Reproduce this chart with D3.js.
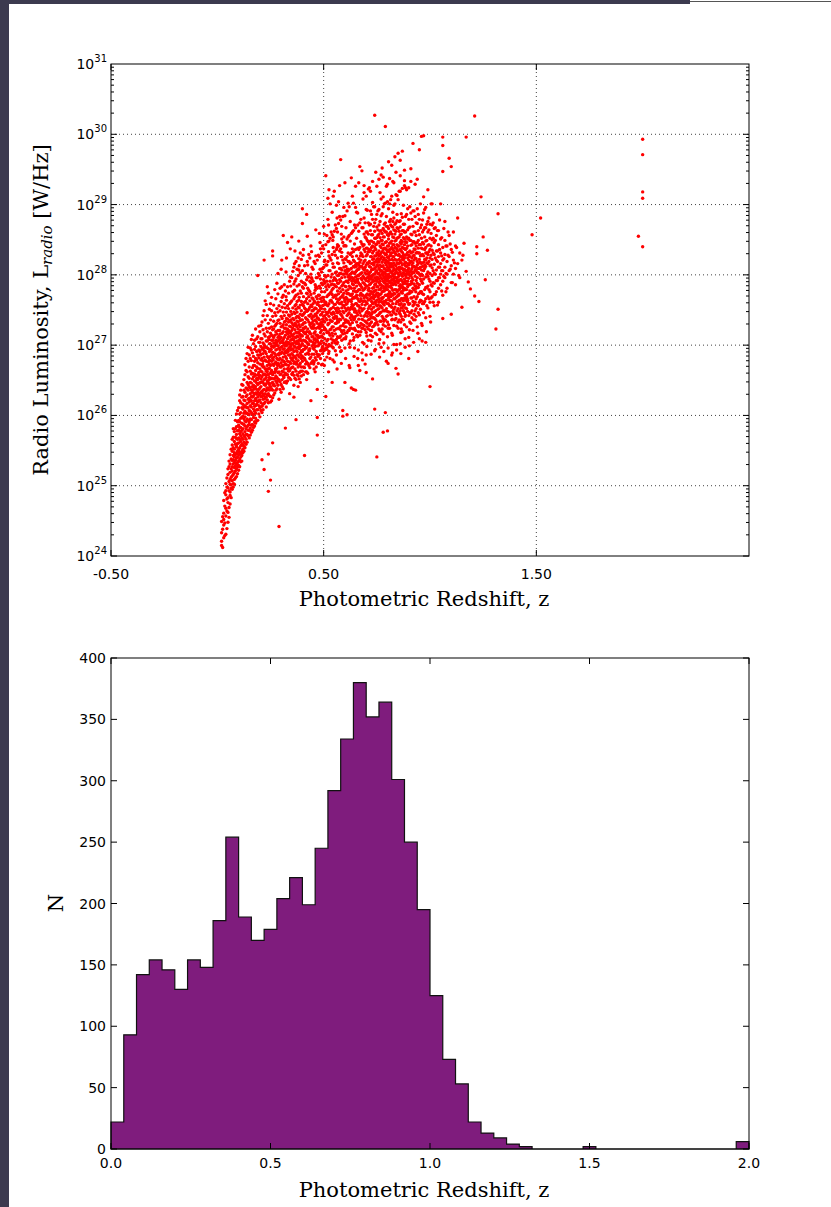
<!DOCTYPE html>
<html><head><meta charset="utf-8">
<script src="https://cdn.jsdelivr.net/npm/d3@7"></script>
<style>body{margin:0;background:#fff}svg{display:block}</style>
</head><body><svg id="c" width="831" height="1207"></svg>
<script>
// ---------- DATA ----------
// Scatter: [redshift z, list of log10 L_radio (W/Hz)] per narrow z column
const scatterColumnsA = [
[0.02,[24.15,24.33,24.21,24.49]],
[0.03,[24.26,24.61,24.44,24.79,24.52]],
[0.04,[24.31,24.87,24.68,24.57,25.03,24.93]],
[0.05,[24.48,25.16,24.76,24.97,24.83,25.24,24.62]],
[0.06,[24.74,25.09,25.31,24.91,25.19,25.44,25.02,24.86]],
[0.07,[25.27,24.95,25.58,25.14,25.36,25.07,25.49,25.21,25.66]],
[0.08,[25.02,25.41,25.18,25.63,25.33,25.77,25.09,25.52,25.26,25.47]],
[0.09,[25.58,25.13,25.39,25.84,25.24,25.67,25.46,26.02,25.31,25.73,25.55]],
[0.10,[25.22,25.61,25.44,25.93,25.35,25.79,25.52,26.11,25.68,25.29,25.86,25.49]],
[0.11,[25.71,25.34,25.96,25.57,26.18,25.46,25.83,25.63,26.36,25.41,25.77,26.04]],
[0.12,[25.47,26.09,25.66,25.88,26.27,25.58,25.99,26.43,25.74,25.52,26.16,25.81]],
[0.13,[25.92,25.54,26.21,25.77,26.58,25.69,26.06,26.33,25.85,26.72,25.61,26.14,25.98]],
[0.14,[26.03,25.62,26.29,25.84,26.47,25.95,26.88,26.17,25.73,26.62,26.11,27.46,26.38]],
[0.15,[25.68,26.24,25.91,26.53,26.07,25.79,26.41,26.86,26.01,26.19,25.87,26.69]],
[0.16,[26.27,25.76,26.12,26.59,25.94,26.36,27.08,26.04,26.78,25.86,26.46,26.21,26.93]],
[0.17,[25.83,26.43,26.09,26.71,26.28,25.97,26.55,27.02,26.17,26.37,26.84,26.01]],
[0.18,[26.32,25.89,26.64,26.14,26.49,27.23,26.03,26.81,26.24,26.57,25.96,26.98,26.41]],
[0.19,[26.19,26.67,25.93,26.44,26.86,26.08,27.12,26.33,26.58,27.99,26.26,26.75,26.51]],
[0.20,[26.39,25.98,26.73,26.22,26.57,27.19,26.11,26.91,26.46,26.31,26.66,27.04]],
[0.21,[26.48,25.37,26.81,26.13,26.62,26.34,27.33,26.04,26.94,26.55,26.27,26.71,27.09]],
[0.22,[26.59,25.23,26.28,27.01,26.44,26.83,26.17,27.49,26.69,26.37,28.21,26.92,27.16,26.51]],
[0.23,[26.26,26.77,26.45,27.06,26.63,26.12,27.58,26.88,26.54,27.24,26.35,26.97]],
[0.24,[26.66,24.92,26.31,27.11,25.45,26.82,26.47,27.31,26.18,26.95,26.58,27.74,26.39,26.76]],
[0.25,[26.52,25.08,26.93,26.27,27.17,26.71,26.41,27.59,26.84,26.6,27.02,26.19,27.36]],
[0.26,[26.73,25.61,26.36,27.07,26.58,26.9,28.27,26.47,27.22,26.81,27.41,26.25,28.34,26.99]],
[0.27,[26.88,26.42,27.14,26.61,27.46,26.32,26.99,26.74,27.79,27.27,26.53,27.03]],
[0.28,[26.67,27.05,26.38,26.94,27.52,26.81,27.16,26.54,27.88,26.73,27.31,26.46,27.01]],
[0.29,[24.42,26.86,26.51,27.21,26.72,27.07,26.23,27.36,26.96,26.62,27.56,26.79,27.13]],
[0.30,[26.97,26.44,27.26,26.75,28.08,27.11,26.59,27.41,26.88,27.62,26.33,27.04,26.69]],
[0.31,[26.83,27.19,26.56,28.56,27.03,26.71,27.47,26.38,26.94,27.71,27.29,26.62,27.08]],
[0.32,[27.02,25.82,26.73,27.34,26.48,26.91,27.53,27.14,26.6,27.77,26.84,27.24,26.99]],
[0.33,[26.77,27.23,26.49,28.46,27.09,26.93,27.56,26.66,27.37,27.83,27.01,26.58,27.17]],
[0.34,[27.12,26.64,27.41,26.31,27.02,26.86,27.59,27.27,26.53,27.91,26.97,27.34,26.76,27.19]],
[0.35,[26.95,27.32,26.59,28.54,27.08,27.63,26.79,27.21,27.96,26.68,27.44,27.14,26.88,27.02]],
[0.36,[27.07,26.43,27.28,26.91,27.66,26.26,27.16,26.74,27.47,28.11,26.99,27.87,26.57,27.36,26.83]],
[0.37,[27.18,25.94,26.81,27.51,27.03,26.63,27.71,27.29,28.19,26.92,27.39,26.51,27.94,27.11,26.73,27.58]],
[0.38,[26.97,27.41,26.69,27.23,28.24,26.86,27.54,27.12,26.41,27.73,27.04,27.99,26.78,27.33,26.56,27.18]],
[0.39,[27.26,26.62,27.09,27.77,26.89,27.44,28.31,27.15,26.47,27.57,26.98,28.03,27.35,26.74,27.21]],
[0.40,[27.13,28.94,26.77,27.42,26.63,27.58,28.73,27.02,27.83,26.91,27.29,28.06,27.21,26.84,27.36]],
[0.41,[26.99,25.43,27.46,26.68,27.17,27.88,26.81,27.32,28.13,27.61,26.94,27.53,27.24]],
[0.42,[27.37,26.51,27.04,28.86,26.76,27.66,27.19,27.93,26.97,27.48,27.74,27.11,26.62]],
[0.43,[26.87,27.51,27.09,28.29,26.71,27.69,27.33,27.97,27.01,26.93,27.42,27.78]],
[0.44,[27.26,26.21,27.57,26.83,27.31,28.41,27.06,27.72,26.74,28.01,27.44,27.16,27.89]],
[0.45,[27.41,26.78,27.66,27.12,28.08,26.96,27.49,27.27,27.91,27.04,27.59,27.34]],
[0.46,[27.09,26.62,27.53,27.78,26.98,28.16,27.36,27.03,27.61,27.86,26.82,27.44,27.19]],
[0.47,[27.31,25.72,25.97,26.37,27.58,26.87,27.81,27.14,28.21,27.46,26.99,27.66,27.96,27.07,27.39]],
[0.48,[27.49,26.86,27.24,27.99,27.02,27.71,28.59,27.36,28.26,27.11,27.84,27.56,27.29]],
[0.49,[27.33,26.72,27.62,27.13,28.04,26.93,27.76,28.31,27.44,27.06,27.88,27.21,27.52]],
[0.50,[27.57,26.92,27.26,28.11,27.68,27.16,28.69,27.41,27.93,27.03,28.37,27.64,27.34]],
[0.51,[27.47,26.27,27.01,27.83,27.22,29.41,27.97,27.38,28.14,26.96,27.61,28.43,27.58]],
[0.52,[27.71,27.08,27.46,28.19,26.98,27.86,29.09,27.29,28.47,27.56,27.99,27.19,28.79]],
[0.53,[27.36,26.81,27.74,27.14,28.06,27.51,29.01,27.22,28.24,27.91,26.99,28.52,27.63]],
[0.54,[27.61,26.47,27.17,27.87,27.34,28.29,27.03,28.89,27.72,27.44,28.01,27.26,28.57,27.79]],
[0.55,[27.45,26.76,27.86,27.21,28.11,27.58,29.19,27.06,28.33,27.38,27.96,28.62,27.69]],
[0.56,[27.66,26.86,27.31,28.04,27.83,27.08,28.99,27.49,28.36,27.23,27.92,28.66,27.41,27.71]],
[0.57,[27.52,27.11,27.88,29.04,27.33,28.16,27.73,27.24,28.41,27.47,27.99,28.73,27.64]],
[0.58,[27.76,26.91,27.27,28.09,29.64,27.44,27.91,27.13,28.37,27.59,28.78,27.36,28.02,27.68]],
[0.59,[27.57,25.99,26.07,27.16,27.86,28.21,27.39,28.83,27.28,28.01,27.71,28.46,27.48,27.79]],
[0.60,[27.64,26.47,26.96,27.36,28.06,27.17,28.42,27.84,29.31,27.53,28.23,27.26,28.84,27.97,27.62]],
[0.61,[27.73,26.01,27.33,28.08,27.51,28.91,27.18,27.91,28.26,27.42,28.51,27.66,28.01,27.59]],
[0.62,[27.84,26.71,27.02,27.46,28.19,27.64,28.97,27.21,28.07,27.93,28.56,27.31,27.73,27.98,27.51]],
[0.63,[27.62,26.39,27.96,27.24,28.31,27.43,29.38,27.81,28.09,27.36,28.59,27.71,27.54,28.17,28.02]],
[0.64,[27.86,26.37,27.07,27.51,28.12,27.68,29.02,27.23,28.33,27.94,28.63,27.39,28.21,27.77,27.57]],
[0.65,[27.69,26.36,27.41,28.14,27.89,29.26,27.21,28.36,27.59,28.96,27.97,27.49,28.67,28.04,27.76]],
[0.66,[27.91,26.81,27.12,27.56,28.16,27.77,28.88,27.28,28.38,27.99,28.71,27.43,28.08,27.66,27.94]],
[0.67,[27.79,26.64,27.46,28.18,27.62,29.54,27.14,28.39,28.01,28.74,27.27,27.86,28.11,27.53,27.71]],
[0.68,[27.93,26.89,27.24,28.12,27.58,29.48,27.37,28.44,27.71,28.67,27.49,28.03,27.82,28.29,27.63]],
[0.69,[27.52,27.02,28.36,27.79,29.17,27.28,28.58,27.96,28.81,27.41,29.27,28.19,27.67,28.07,27.88,28.43]],
[0.70,[28.14,26.61,27.33,27.61,28.27,26.86,27.84,28.52,27.18,28.93,27.71,28.61,29.12,27.46,28.01,27.92,28.38]],
[0.71,[27.64,27.07,28.47,27.91,29.22,27.36,28.16,28.74,27.52,28.02,27.78,27.23,28.33,27.97,28.58,27.45]],
[0.72,[28.26,27.14,27.66,28.48,27.87,29.19,27.31,28.11,27.56,28.72,27.42,28.63,28.04,27.94,27.73,28.35,27.21,28.91]],
[0.73,[27.81,26.52,27.39,27.59,28.22,28.08,29.33,27.12,28.57,27.93,28.79,27.47,29.03,28.31,27.68,27.99,28.41,27.26]],
[0.74,[28.18,26.09,30.27,26.92,27.47,27.77,28.39,27.96,28.62,27.29,28.97,27.61,28.09,28.52,27.86,28.27,27.38,28.01,27.69,28.74]],
[0.75,[27.91,25.41,27.15,27.64,28.44,27.83,29.26,27.42,28.68,28.14,28.86,27.56,28.06,27.33,27.74,28.31,27.97,28.53,28.22]],
[0.76,[28.34,27.02,27.52,28.09,27.79,29.36,27.23,28.71,27.66,28.93,27.89,28.19,28.58,27.94,27.44,28.02,28.46,27.61,28.27,27.71]],
[0.77,[27.96,26.97,27.34,28.39,27.86,29.42,27.19,28.63,27.73,28.84,27.62,28.24,27.47,28.12,28.05,27.55,28.31,28.49,27.81,29.08]],
[0.78,[28.21,25.76,27.16,27.68,28.43,27.91,29.11,27.38,28.66,27.77,28.97,28.04,27.99,29.39,27.59,28.54,27.29,28.13,27.84,28.36,27.49]],
[0.79,[27.88,26.04,30.11,27.27,27.61,28.29,28.08,29.02,27.49,28.74,27.93,28.61,28.17,27.36,28.46,27.71,28.38,27.97,27.82,28.02]],
[0.80,[28.06,25.78,27.12,27.48,28.33,27.87,29.29,27.33,28.57,27.71,29.04,27.59,28.41,28.19,27.94,27.42,28.11,27.79,28.25,27.99,28.69]],
[0.81,[28.27,27.24,27.69,28.45,27.91,29.37,27.56,28.76,27.83,29.01,27.98,28.14,28.59,27.64,28.36,27.47,27.76,28.07,28.21]],
[0.82,[27.93,26.86,27.17,27.54,28.31,28.12,29.56,27.36,28.69,27.81,29.12,27.72,28.22,28.48,28.03,27.43,28.39,27.63,28.16,27.89,28.58]],
[0.83,[28.09,27.01,27.28,27.74,28.53,27.96,29.31,27.46,28.81,27.87,28.99,28.01,28.26,28.43,27.66,28.17,27.51,27.92,28.64,28.34]],
[0.84,[28.29,26.67,27.38,27.59,28.38,28.13,29.46,27.79,28.62,27.96,29.14,27.44,28.21,27.86,28.06,27.68,28.49,27.91,28.74]],
[0.85,[28.02,26.59,29.73,27.24,27.71,28.41,28.16,27.33,28.66,27.89,29.07,27.52,28.28,27.97,28.34,27.78,28.53,28.09,27.62]],
[0.86,[28.19,27.02,27.44,27.63,28.57,28.04,29.63,27.57,28.77,27.93,29.19,27.81,28.36,29.41,28.26,27.49,28.46,27.86,28.11,28.68]],
[0.87,[27.91,29.76,27.19,27.37,27.74,28.47,28.22,27.66,28.82,27.83,29.23,28.63,28.32,27.53,28.09,28.39,27.98,28.14]],
[0.88,[28.37,27.46,27.29,27.81,28.61,28.08,29.49,27.58,28.72,28.01,29.27,29.34,28.24,27.88,28.43,27.67,28.16,27.94,28.51]],
[0.89,[28.12,27.26,27.52,27.69,28.54,28.29,27.87,28.86,27.63,29.21,28.38,27.79,28.02,28.46,27.96]],
[0.90,[28.28,26.81,27.11,27.42,27.86,28.67,28.14,27.58,28.79,28.03,29.24,28.21,27.73,28.52,28.09,27.95]],
[0.91,[28.19,27.31,27.67,27.87,28.58,28.31,29.51,27.46,28.88,27.76,29.33,28.42,28.06,27.99,28.49]],
[0.92,[28.33,27.21,27.56,27.81,28.69,28.12,29.87,27.62,28.91,28.04,27.93,28.27,28.17,28.47]],
[0.93,[28.24,27.36,27.61,27.98,28.61,28.36,29.29,27.49,28.83,28.11,27.84,28.45,28.07]],
[0.94,[28.46,27.26,27.57,27.88,28.73,28.19,29.36,27.69,28.94,28.03,27.96,28.32,28.14]],
[0.95,[28.31,27.09,27.43,27.74,28.57,28.22,29.78,27.61,28.79,28.09,27.86,28.43,28.01]],
[0.96,[28.38,27.31,27.63,27.91,28.52,28.16,29.97,27.76,28.71,28.07,28.01,28.28]],
[0.97,[28.27,27.46,27.72,29.98,28.64,28.18,29.11,27.59,28.88,28.06,27.94,28.44]],
[0.98,[28.21,27.04,27.39,27.66,28.48,28.12,28.96,27.82,28.67,28.31,27.97,28.39]],
[0.99,[28.16,27.53,27.84,28.61,28.29,29.21,27.69,28.76,28.04,27.98,28.42]],
[1.00,[28.13,26.41,27.41,27.76,28.52,28.36,27.61,28.72,27.91,28.24,28.02]],
[1.01,[28.22,27.69,27.99,28.5,28.71,29.01,27.84,28.35,28.1]],
[1.02,[28.15,27.56,27.88,28.46,28.66,27.72,28.29,28.02]],
[1.03,[28.07,27.76,28.56,28.86,27.92,28.34,28.21]],
[1.04,[28.11,27.61,27.96,28.43,28.63,27.81,28.26]],
[1.05,[28.31,27.86,28.51,29.01,28.01,28.16]],
[1.06,[28.06,27.38,27.71,28.39,29.96,29.84,29.47,27.91,28.21]],
[1.07,[28.29,27.96,28.49,28.76,28.11]],
[1.08,[28.19,27.81,28.41,28.01]],
[1.09,[28.26,28.06,28.56,29.66]],
[1.10,[28.13,27.44,27.89,28.36,29.54]],
[1.11,[28.21,28.01,28.61]],
[1.12,[28.09,27.86,28.41]],
[1.13,[28.16,28.81]],
[1.14,[27.96,28.31]],
[1.15,[27.54,28.21]],
[1.16,[28.45]],
[1.17,[29.96,28.05]],
[1.18,[27.9]],
[1.19,[27.8]],
[1.21,[30.26,27.7]],
[1.22,[28.4,28.3]],
[1.23,[27.62]],
[1.24,[29.11]],
[1.25,[28.54]],
[1.26,[27.93]],
[1.27,[28.35]],
[1.31,[27.23]],
[1.32,[28.87,27.51]],
[1.48,[28.57]],
[1.52,[28.81]],
[1.98,[28.55]],
[2.00,[29.93,29.71,29.18,29.09,28.40]]
];

// second reading pass, between the columns above
const scatterColumnsB = [
[0.025,[24.38,24.12,24.56]],
[0.035,[24.47,24.29,24.71,24.9]],
[0.045,[24.64,24.39,24.98,24.81,25.11]],
[0.055,[24.69,25.06,24.93,25.27,24.55,25.35]],
[0.065,[25.12,24.83,25.38,25.01,25.52,25.24,24.96]],
[0.075,[25.43,25.03,25.31,25.69,25.16,25.54,24.98,25.37,25.81]],
[0.085,[25.36,25.59,25.11,25.81,25.44,25.21,25.69,25.93,25.28]],
[0.095,[25.66,25.27,25.49,25.91,25.17,25.78,25.41,26.07,25.6,25.33]],
[0.105,[25.54,25.83,25.38,26.02,25.66,25.27,26.21,25.74,25.47,25.91,26.29]],
[0.115,[25.89,25.49,26.11,25.68,25.35,26.26,25.97,25.59,25.79,26.44,25.43]],
[0.125,[25.71,26.03,25.49,26.22,25.87,26.51,25.62,26.36,25.95,25.56,26.12]],
[0.135,[26.12,25.66,25.91,26.39,25.81,26.64,25.73,26.27,26.03,26.81,25.59]],
[0.145,[25.86,26.36,26.11,25.71,26.55,26.02,26.77,25.79,26.23,25.93,26.44,26.97]],
[0.155,[26.14,25.82,26.47,26.31,26.96,25.72,26.63,26.06,26.39,25.95,26.81,26.22]],
[0.165,[26.33,25.87,26.68,26.17,26.52,26.02,26.89,26.41,25.79,26.26,27.14,26.6]],
[0.175,[26.49,25.91,26.21,26.77,26.39,26.06,26.94,26.59,26.13,26.31,27.07,25.85,26.71]],
[0.185,[26.08,26.53,26.37,26.91,26.21,26.69,25.92,27.09,26.46,26.16,26.79,26.3]],
[0.195,[26.61,26.14,26.46,27.04,26.29,26.82,26.02,26.54,27.27,26.37,26.93,26.21]],
[0.205,[26.27,26.79,26.52,26.07,26.98,26.41,27.28,26.63,26.18,26.87,26.33,27.09]],
[0.215,[26.69,26.23,27.03,26.47,26.88,26.08,26.58,27.22,26.36,26.77,26.16,26.96,27.42]],
[0.225,[26.43,26.91,26.66,26.19,27.13,26.52,26.79,27.36,26.31,26.98,26.58,27.63]],
[0.235,[26.84,26.37,26.58,27.19,26.71,26.22,27.42,26.96,26.49,27.06,26.62,27.83,26.29]],
[0.245,[26.54,27.02,26.79,26.28,27.24,26.67,26.44,27.51,26.91,26.36,27.12,26.73]],
[0.255,[26.98,26.38,26.64,27.26,26.86,26.21,27.49,26.53,27.07,26.77,27.68,26.46,27.14]],
[0.265,[26.61,27.11,26.83,26.44,27.34,26.97,26.29,27.57,26.71,27.03,26.52,27.23,26.89]],
[0.275,[26.93,26.49,27.19,26.76,27.42,26.36,27.07,26.64,27.66,26.85,27.29,26.56]],
[0.285,[26.74,27.21,26.43,26.99,27.47,26.61,27.11,26.87,27.73,26.52,27.35,26.8,28.02]],
[0.295,[27.03,26.58,27.31,26.81,26.37,27.16,26.69,27.49,26.93,27.81,26.48,27.09]],
[0.305,[26.79,27.17,26.51,27.38,26.9,27.06,26.63,27.54,26.41,27.27,26.98,27.68,26.71]],
[0.315,[27.11,26.66,27.42,26.88,27.01,26.47,27.24,26.76,27.59,26.95,27.33,26.57,27.86]],
[0.325,[26.89,27.29,26.58,27.05,27.47,26.72,27.19,26.99,27.64,26.46,27.38,26.81,28.24]],
[0.335,[27.21,26.71,27.04,27.52,26.86,27.33,26.54,27.12,27.74,26.95,27.43,26.63]],
[0.345,[26.93,27.36,26.67,27.17,27.61,26.82,27.26,26.51,27.07,27.84,26.99,27.48,26.74]],
[0.355,[27.24,26.78,27.53,26.94,27.13,26.61,27.38,27.02,27.76,26.86,28.05,26.69,27.29]],
[0.365,[26.97,27.45,26.66,27.22,27.69,26.84,27.31,26.53,27.11,27.91,26.76,27.56,27.04,28.34]],
[0.375,[27.34,26.86,27.13,27.62,26.73,27.47,26.96,27.26,27.84,26.58,27.06,27.41,26.91,28.08]],
[0.385,[27.07,26.61,27.39,26.83,27.68,27.17,26.95,27.53,26.71,28.13,27.29,26.52,27.86,27.01]],
[0.395,[26.92,27.49,27.21,26.69,27.74,27.06,26.81,27.36,28.22,26.56,27.62,27.14,26.99,27.91]],
[0.405,[27.31,26.82,27.56,27.07,26.69,27.81,27.19,26.94,27.44,28.36,26.58,27.69,27.24]],
[0.415,[27.16,26.73,27.62,26.96,27.39,27.86,26.62,27.26,27.06,28.02,26.87,27.51]],
[0.425,[27.49,26.89,27.23,27.81,26.74,27.36,27.02,28.14,26.6,27.59,27.13,27.97]],
[0.435,[27.06,27.54,26.81,27.29,27.76,26.95,27.41,27.17,28.24,26.68,27.63,27.91]],
[0.445,[27.38,26.87,27.67,27.12,27.49,26.76,27.94,27.24,26.99,28.11,27.55,27.31]],
[0.455,[27.08,27.51,26.76,27.29,27.74,26.94,27.41,26.66,28.19,27.17,27.63,26.87]],
[0.465,[27.42,26.91,27.24,27.83,26.69,27.52,27.06,27.96,27.34,26.79,27.69,27.14]],
[0.475,[27.13,27.61,26.86,27.38,28.02,26.99,27.49,26.74,27.26,28.28,27.71,27.04]],
[0.485,[27.53,27.02,27.31,27.94,26.81,27.66,27.18,28.37,27.43,26.92,27.81,27.26]],
[0.495,[27.29,26.88,27.68,27.11,28.09,27.47,26.98,27.86,27.37,26.73,28.41,27.56]],
[0.505,[27.61,27.09,27.42,27.99,26.93,27.76,27.24,28.21,27.51,26.79,27.88,27.33]],
[0.515,[27.36,26.94,27.79,27.18,28.14,27.57,26.83,27.91,27.44,28.56,27.06,27.69]],
[0.525,[27.72,27.17,27.48,28.06,27.01,27.83,27.31,28.48,27.59,26.91,28.27,27.41,29.21]],
[0.535,[27.45,26.99,27.86,27.23,28.21,27.64,27.09,27.97,27.52,28.61,27.34,27.76]],
[0.545,[27.81,27.26,27.54,28.11,27.07,27.92,27.39,28.39,27.68,26.96,28.54,27.47,29.12]],
[0.555,[27.52,27.03,27.94,27.31,28.28,27.71,27.16,28.03,27.58,28.71,27.41,27.84,26.92]],
[0.565,[27.88,27.34,27.61,28.17,27.12,27.99,27.46,28.43,27.77,27.04,28.61,27.53,28.24]],
[0.575,[27.59,27.11,28.02,27.37,28.34,27.81,27.23,28.09,27.66,28.83,27.48,27.93,26.97,29.27]],
[0.585,[27.96,27.42,27.69,28.26,27.19,28.07,27.53,28.51,27.84,27.07,28.69,27.61,28.32]],
[0.595,[27.67,27.21,28.11,27.46,28.41,27.89,27.31,28.17,27.74,28.96,27.56,28.01,27.09,28.54]],
[0.605,[27.58,27.12,28.03,27.77,28.41,27.36,27.91,27.49,28.22,27.68,28.67,27.26,27.83,28.12]],
[0.615,[27.44,27.97,27.21,28.31,27.62,28.08,27.34,27.79,28.54,27.53,27.89,28.19,29.02]],
[0.625,[27.71,27.29,28.16,27.51,27.94,28.48,27.06,27.82,28.29,27.64,28.76,27.39,28.01]],
[0.635,[27.87,27.41,27.16,28.26,27.73,28.04,27.55,28.61,27.96,27.32,28.37,27.66,29.12]],
[0.645,[27.52,28.11,27.24,27.91,28.44,27.67,27.38,28.19,27.81,28.71,27.47,28.02,26.96]],
[0.655,[27.76,27.33,28.27,27.59,28.06,27.14,27.93,28.52,27.46,28.16,27.71,28.89,27.84]],
[0.665,[28.08,27.49,27.26,27.99,28.36,27.63,28.14,27.79,27.37,28.62,27.88,28.23,27.56,29.31]],
[0.675,[27.66,28.21,27.42,27.84,28.47,27.19,28.02,27.74,28.31,27.53,28.79,27.95,28.12,27.31]],
[0.685,[27.89,27.36,28.41,27.62,28.09,27.78,28.67,27.24,27.98,28.26,27.51,28.16,27.71,29.08]],
[0.695,[28.03,27.57,27.22,28.33,27.81,28.54,27.43,28.11,27.69,27.94,28.74,27.34,28.21,27.86,26.73]],
[0.705,[27.73,28.29,27.48,27.96,28.61,27.31,28.06,27.84,28.38,27.59,28.92,27.67,28.17,27.41,28.49]],
[0.715,[27.94,27.46,28.44,27.71,28.19,27.28,28.03,27.86,28.71,27.55,28.33,27.77,28.12,27.37,29.24,27.99]],
[0.725,[28.16,27.62,27.33,28.39,27.89,28.57,27.51,28.07,27.76,28.26,27.44,28.86,27.97,27.68,28.48,27.21]],
[0.735,[27.82,28.34,27.54,28.01,28.69,27.39,28.14,27.91,28.46,27.66,28.23,27.27,27.76,28.97,28.08,27.47]],
[0.745,[28.04,27.58,28.52,27.78,28.27,27.36,28.11,27.93,28.79,27.49,28.36,27.71,28.19,27.62,29.46,27.87,28.43]],
[0.755,[28.23,27.69,27.42,28.47,27.96,28.64,27.57,28.13,27.83,28.31,27.29,28.91,28.02,27.74,28.56,27.51,28.18]],
[0.765,[27.91,28.41,27.63,28.07,28.76,27.46,28.22,27.99,28.53,27.72,28.29,27.34,27.86,29.17,28.14,27.56,28.62,27.79]],
[0.775,[28.12,27.66,28.59,27.84,28.33,27.41,28.18,28.01,28.87,27.53,28.44,27.76,28.26,27.61,29.52,27.94,28.49,27.23]],
[0.785,[28.31,27.77,27.49,28.54,28.03,28.72,27.62,28.21,27.89,28.38,27.36,29.01,28.09,27.81,28.63,27.57,28.24,27.96]],
[0.795,[27.98,28.47,27.71,28.14,28.83,27.52,28.29,28.06,28.61,27.79,28.36,27.41,27.92,29.26,28.19,27.64,28.69,27.86,26.77]],
[0.805,[28.17,27.73,28.66,27.91,28.41,27.47,28.24,28.08,28.94,27.59,28.51,27.83,28.33,27.67,29.61,28.01,28.56,27.29,27.96]],
[0.815,[28.37,27.84,27.56,28.61,28.11,28.79,27.69,28.28,27.97,28.46,27.43,29.07,28.16,27.88,28.71,27.63,28.31,28.04]],
[0.825,[28.06,28.54,27.78,28.21,28.89,27.59,28.36,28.13,28.68,27.86,28.43,27.48,27.99,29.33,28.26,27.71,28.76,27.93]],
[0.835,[28.22,27.79,28.72,27.97,28.48,27.54,28.31,28.14,29.01,27.66,28.58,27.89,28.39,27.73,29.68,28.07,28.63,27.36,28.02]],
[0.845,[28.43,27.91,27.62,28.67,28.17,28.86,27.76,28.34,28.03,28.52,27.49,29.13,28.21,27.94,28.77,27.69,28.37,28.09]],
[0.855,[27.92,28.41,27.64,28.07,28.76,27.46,28.22,27.99,28.54,27.73,28.29,27.36,27.84,29.19,28.11,27.58,28.62,27.79]],
[0.865,[28.09,27.66,28.58,27.84,28.34,27.41,28.17,28.01,28.87,27.53,28.44,27.76,28.26,27.59,27.93,28.49,27.23]],
[0.875,[28.29,27.78,27.49,28.53,28.03,28.72,27.63,28.21,27.89,28.38,27.36,28.99,28.07,27.81,28.63,27.56,28.23]],
[0.885,[27.99,28.47,27.71,28.13,28.83,27.53,28.28,28.06,28.61,27.79,28.36,27.43,27.91,29.24,28.18,27.66]],
[0.895,[28.16,27.73,28.64,27.91,28.41,27.48,28.24,28.07,28.94,27.61,28.51,27.83,28.32,27.64,28.01]],
[0.905,[28.26,27.74,27.46,28.49,27.99,28.68,27.59,28.17,27.86,28.34,27.33,28.97,28.04,27.77]],
[0.915,[27.96,28.43,27.67,28.09,28.79,27.49,28.24,28.02,28.57,27.76,28.32,27.39,27.88,28.14]],
[0.925,[28.12,27.69,28.61,27.87,28.37,27.44,28.21,28.03,28.91,27.58,28.47,27.79,28.28]],
[0.935,[28.31,27.81,27.52,28.56,28.06,28.74,27.66,28.23,27.92,28.41,27.41,28.11,27.84]],
[0.945,[28.03,28.49,27.73,28.16,28.86,27.56,28.31,28.09,28.63,27.82,28.38,27.46]],
[0.955,[28.18,27.76,28.67,27.94,28.43,27.51,28.27,28.11,29.01,27.64,27.99]],
[0.965,[28.37,27.88,27.59,28.61,28.12,28.78,27.73,28.29,27.99,28.46]],
[0.975,[28.09,28.54,27.79,28.22,28.93,27.62,28.36,28.14,28.67]],
[0.985,[28.24,27.82,28.72,28.01,28.49,27.56,28.31,28.17]],
[0.995,[28.43,27.94,27.66,28.64,28.19,28.81,27.79,28.33]],
[1.005,[28.14,28.59,27.86,28.28,29.01,27.67,28.41]],
[1.015,[28.31,27.89,28.74,28.06,28.52,27.61]],
[1.025,[28.49,28.01,27.72,28.67,28.24]],
[1.035,[28.19,28.63,27.92,28.34,27.57]],
[1.045,[28.36,27.96,28.78,28.11]],
[1.055,[28.53,28.06,27.77,28.27]],
[1.065,[28.23,28.66,27.98]],
[1.075,[28.41,28.02,27.76]],
[1.085,[28.28,28.61]],
[1.095,[28.08,28.44]],
[1.105,[28.32,27.89]],
[1.115,[28.17]],
[1.125,[28.39]],
[1.135,[27.99]],
[1.155,[28.28]]
];

// third reading pass: extra points in the crowded middle / lower edge of the cloud
const scatterColumnsC = [
[0.203,[26.47,26.86,26.12]],[0.213,[26.73,26.31]],[0.223,[26.58,26.97,26.24]],
[0.233,[26.66,26.39]],[0.243,[26.83,26.51,27.08]],[0.253,[26.62,26.94]],
[0.263,[26.79,26.43,27.12]],[0.273,[26.99,26.66]],[0.283,[26.71,27.06,26.49]],
[0.293,[26.89,27.21]],[0.303,[27.83,28.21]],[0.313,[26.77,27.03,26.54]],
[0.323,[27.69,28.04]],[0.333,[26.91,27.16,26.67]],[0.343,[27.97,28.37]],
[0.353,[26.81,27.09,26.58]],[0.363,[27.78,28.16]],[0.373,[27.02,26.76,27.27]],
[0.383,[28.07,27.64,28.48]],[0.393,[26.86,27.13,26.63]],[0.403,[27.89,28.28]],
[0.413,[27.06,26.79,27.32]],[0.423,[28.19,27.73,28.55]],[0.433,[26.92,27.19]],
[0.443,[27.96,28.33]],[0.453,[27.01,26.73,27.24]],[0.463,[28.27,27.82,28.64]],
[0.473,[26.84,27.11]],[0.483,[28.08,28.46]],[0.493,[26.96,27.28]],
[0.503,[26.71,27.22,26.94,28.19,28.58,27.91]],[0.523,[26.88,26.62,27.31,28.33,28.71]],
[0.543,[26.79,27.13,26.97,28.16,28.49]],[0.563,[26.66,27.02,27.38,28.39,28.81]],
[0.583,[26.92,27.21,26.74,28.26,28.58]],[0.603,[26.81,27.09,27.33]],
[0.613,[27.74,28.05]],[0.623,[26.97,26.68,27.24]],[0.633,[27.91,27.58]],
[0.643,[27.11,26.84,27.36]],[0.653,[28.12,27.69]],[0.663,[26.93,27.19,26.71]],
[0.673,[27.86,28.27]],[0.683,[27.04,26.79,27.29]],[0.693,[28.08,27.63]],
[0.703,[26.98,27.26,27.13]],[0.713,[27.81,28.36]],[0.723,[26.87,27.06,27.39]],
[0.733,[28.17,27.72]],[0.743,[27.17,26.94,27.31]],[0.753,[27.94,28.29]],
[0.763,[26.83,27.21,27.08]],[0.773,[28.06,27.67]],[0.783,[27.03,26.91,27.34]],
[0.793,[27.83,28.21]],[0.803,[26.96,27.24,26.74]],[0.813,[28.13,27.74]],
[0.823,[27.14,26.89,27.37]],[0.833,[27.96,28.32]],[0.843,[27.01,27.27,26.93]],
[0.853,[28.16,27.71]],[0.863,[26.88,27.18,27.33]],[0.873,[27.87,28.26]],
[0.883,[27.09,26.97,27.41]],[0.893,[28.04,27.66]],[0.903,[27.22,26.99]],
[0.913,[27.91,28.19]],[0.923,[27.04,27.36]],[0.933,[28.07,27.76]],
[0.943,[27.17,26.91]],[0.963,[27.28,27.06]],[0.983,[27.19]],[1.003,[27.33]]
];

// Histogram: 50 bins of width 0.04 from z = 0 to 2
const histRange = [0, 2];
const histCounts = [22,93,142,154,146,130,154,148,186,254,
                    189,170,179,204,221,199,245,292,334,380,
                    352,364,301,250,195,125,73,53,22,13,
                    9,4,2,0,0,0,0,2,0,0,
                    0,0,0,0,0,0,0,0,0,6];

// Tick values / labels
const topXTicks = [-0.5, 0.5, 1.5];
const topXTickLabels = ["-0.50", "0.50", "1.50"];
const topYExponents = [24, 25, 26, 27, 28, 29, 30, 31];
const botXTicks = [0, 0.5, 1.0, 1.5, 2.0];
const botXTickLabels = ["0.0", "0.5", "1.0", "1.5", "2.0"];
const botYTicks = [0, 50, 100, 150, 200, 250, 300, 350, 400];

// ---------- DRAW ----------
const svg = d3.select("#c");
const TICKF = "'DejaVu Sans', Verdana, sans-serif";
const SERIF = "'DejaVu Serif', serif";

svg.append("rect").attr("x",0).attr("y",0).attr("width",831).attr("height",1207).attr("fill","#fff");
svg.append("rect").attr("x",0).attr("y",0).attr("width",9).attr("height",1207).attr("fill","#3c3a4f");
svg.append("rect").attr("x",0).attr("y",0).attr("width",690).attr("height",4).attr("fill","#3c3a4f");
svg.append("rect").attr("x",690).attr("y",1).attr("width",141).attr("height",1).attr("fill","#555");

// ===== Top scatter =====
const T = {l:111, r:749, t:64, b:556};
const xT = d3.scaleLinear().domain([-0.5, 2.5]).range([T.l, T.r]);
const yT = d3.scaleLog().domain([1e24, 1e31]).range([T.b, T.t]);
const gT = svg.append("g");

topYExponents.filter(e => e > 24 && e < 31).forEach(e => {
  const y = yT(Math.pow(10, e));
  gT.append("line").attr("x1",T.l).attr("x2",T.r).attr("y1",y).attr("y2",y)
    .attr("stroke","#444").attr("stroke-width",1).attr("stroke-dasharray","1,3");
});
topXTicks.filter(v => v > -0.5).forEach(v => {
  gT.append("line").attr("x1",xT(v)).attr("x2",xT(v)).attr("y1",T.t).attr("y2",T.b)
    .attr("stroke","#444").attr("stroke-width",1).attr("stroke-dasharray","1,3");
});

const pts = [];
[scatterColumnsA, scatterColumnsB, scatterColumnsC].forEach(cols =>
  cols.forEach(([z, ls]) => ls.forEach(l => pts.push([z, Math.pow(10, l)]))));
gT.append("g").selectAll("circle").data(pts).join("circle")
  .attr("cx", d => xT(d[0])).attr("cy", d => yT(d[1])).attr("r", 1.7).attr("fill", "#ff0000");

gT.append("rect").attr("x",T.l).attr("y",T.t).attr("width",T.r-T.l).attr("height",T.b-T.t)
  .attr("fill","none").attr("stroke","#000").attr("stroke-width",1);

for (let e = 24; e <= 30; e++) {
  for (let k = 1; k <= 9; k++) {
    const y = yT(k * Math.pow(10, e));
    const len = k === 1 ? 6 : 3;
    gT.append("line").attr("x1",T.l).attr("x2",T.l+len).attr("y1",y).attr("y2",y).attr("stroke","#000");
    gT.append("line").attr("x1",T.r).attr("x2",T.r-len).attr("y1",y).attr("y2",y).attr("stroke","#000");
  }
}
topYExponents.forEach(e => {
  const y = yT(Math.pow(10, e));
  const t = gT.append("text").attr("x", 107).attr("y", y + 5).attr("text-anchor","end")
    .attr("font-family", TICKF).attr("font-size", 14).attr("fill","#000");
  t.append("tspan").text("10");
  t.append("tspan").attr("dy", -7).attr("font-size", 10).text(String(e));
});
topXTicks.forEach((v, i) => {
  const x = xT(v);
  gT.append("line").attr("x1",x).attr("x2",x).attr("y1",T.b).attr("y2",T.b-6).attr("stroke","#000");
  gT.append("line").attr("x1",x).attr("x2",x).attr("y1",T.t).attr("y2",T.t+6).attr("stroke","#000");
  gT.append("text").attr("x", x).attr("y", T.b + 23).attr("text-anchor","middle")
    .attr("font-family", TICKF).attr("font-size", 14).attr("fill","#000").text(topXTickLabels[i]);
});
gT.append("text").attr("x", 424).attr("y", 606).attr("text-anchor","middle")
  .attr("font-family", SERIF).attr("font-size", 21).attr("fill","#000").text("Photometric Redshift, z");
const yl = gT.append("text").attr("transform","translate(48,310) rotate(-90)").attr("text-anchor","middle")
  .attr("font-family", SERIF).attr("font-size", 21).attr("fill","#000");
yl.append("tspan").text("Radio Luminosity, L");
yl.append("tspan").attr("font-style","italic").attr("font-size",15).attr("dy",4).text("radio");
yl.append("tspan").attr("dy",-4).text(" [W/Hz]");

// ===== Bottom histogram =====
const B = {l:111, r:749, t:658, b:1149};
const xB = d3.scaleLinear().domain(histRange).range([B.l, B.r]);
const yB = d3.scaleLinear().domain([0, 400]).range([B.b, B.t]);
const gB = svg.append("g");
const bw = (histRange[1] - histRange[0]) / histCounts.length;
const stepPts = [[histRange[0], 0]];
histCounts.forEach((c, i) => {
  stepPts.push([histRange[0] + i*bw, c]);
  stepPts.push([histRange[0] + (i+1)*bw, c]);
});
stepPts.push([histRange[1], 0]);
const line = d3.line().x(d => xB(d[0])).y(d => yB(d[1]));
gB.append("path").attr("d", line(stepPts) + "Z").attr("fill","#7f1c7d")
  .attr("stroke","#111").attr("stroke-width",1.2).attr("stroke-linejoin","miter");

gB.append("rect").attr("x",B.l).attr("y",B.t).attr("width",B.r-B.l).attr("height",B.b-B.t)
  .attr("fill","none").attr("stroke","#000").attr("stroke-width",1);
botYTicks.forEach(v => {
  const y = yB(v);
  gB.append("line").attr("x1",B.l).attr("x2",B.l+6).attr("y1",y).attr("y2",y).attr("stroke","#000");
  gB.append("line").attr("x1",B.r).attr("x2",B.r-6).attr("y1",y).attr("y2",y).attr("stroke","#000");
  gB.append("text").attr("x", 106).attr("y", y + 5).attr("text-anchor","end")
    .attr("font-family", TICKF).attr("font-size", 14).attr("fill","#000").text(String(v));
});
botXTicks.forEach((v, i) => {
  const x = xB(v);
  gB.append("line").attr("x1",x).attr("x2",x).attr("y1",B.b).attr("y2",B.b-6).attr("stroke","#000");
  gB.append("line").attr("x1",x).attr("x2",x).attr("y1",B.t).attr("y2",B.t+6).attr("stroke","#000");
  gB.append("text").attr("x", x).attr("y", B.b + 19).attr("text-anchor","middle")
    .attr("font-family", TICKF).attr("font-size", 14).attr("fill","#000").text(botXTickLabels[i]);
});
gB.append("text").attr("x", 424).attr("y", 1197).attr("text-anchor","middle")
  .attr("font-family", SERIF).attr("font-size", 21).attr("fill","#000").text("Photometric Redshift, z");
gB.append("text").attr("transform","translate(63,903) rotate(-90)").attr("text-anchor","middle")
  .attr("font-family", SERIF).attr("font-size", 21).attr("fill","#000").text("N");
</script></body></html>
